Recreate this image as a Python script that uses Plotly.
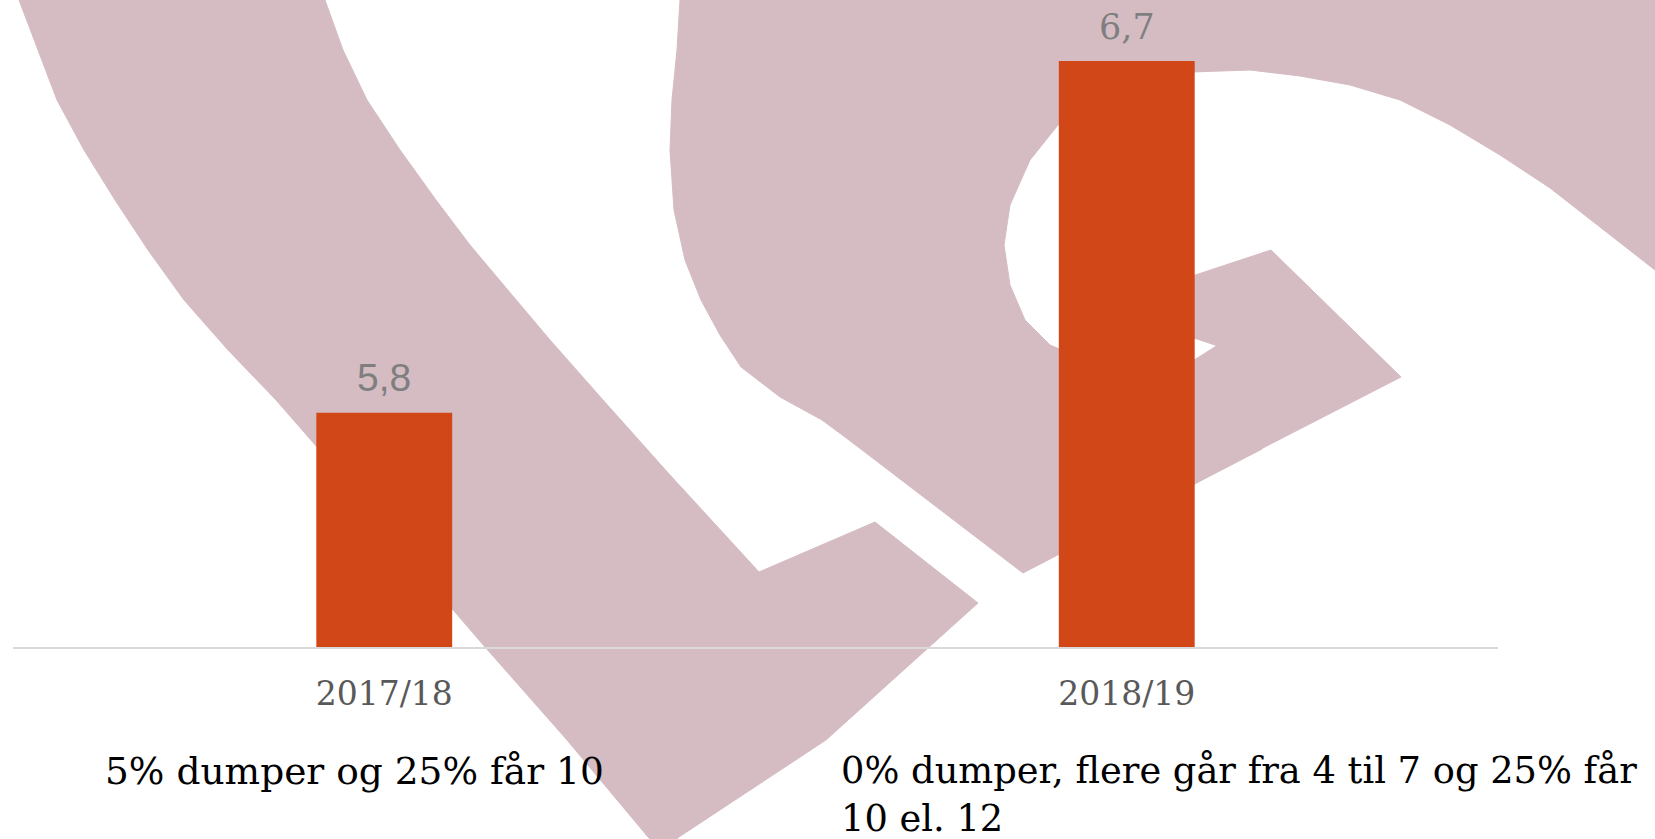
import plotly.graph_objects as go

# ---- data ----
categories = ["2017/18", "2018/19"]
values = [5.8, 6.7]
label_fonts = ["Liberation Sans", "DejaVu Serif"]
label_sizes = [39, 35]
notes = [
    "5% dumper og 25% får 10",
    "0% dumper, flere går fra 4 til 7 og 25% får<br>10 el. 12",
]
note_sizes = [37.5, 36.8]

# ---- layout geometry ----
W, H = 1655, 839
ML, MR, MT, MB = 13, 157, 22, 192
PW = W - ML - MR
PH = H - MT - MB

PINK = "#d5bcc3"
BAR = "#d24718"


def P(x, y):
    return (x - ML) / PW, (H - MB - y) / PH


def path(pts):
    s = ""
    for i, (x, y) in enumerate(pts):
        px, py = P(x, y)
        s += ("M" if i == 0 else "L") + f"{px:.5f},{py:.5f} "
    return s + "Z"


# background logo (decoration), pixel outlines
band = [(15, -5), (19, 0), (38, 50), (57, 100), (84, 150), (115, 200), (148, 250),
        (184, 300), (228, 350), (276, 400), (317, 447), (400, 548), (485, 647),
        (567, 740), (648, 837), (663, 852), (679, 837), (826, 740), (978, 603),
        (875, 522), (759, 572), (670, 475), (603, 400), (550, 340), (512, 295),
        (470, 245), (436, 200), (400, 150), (367, 100), (343, 50), (325, 0), (323, -5)]
cbody = [(682, -5), (1660, -5), (1660, 272), (1655, 270), (1600, 227), (1550, 188),
         (1500, 155), (1450, 125), (1400, 100), (1350, 85), (1300, 76), (1250, 70),
         (1192, 72), (1140, 80), (1095, 100), (1058, 125), (1030, 160), (1010, 205),
         (1004, 245), (1010, 285), (1025, 320), (1050, 345), (1090, 362), (1140, 368),
         (1191, 362), (1218, 345), (1262, 449), (1023, 573), (849, 440), (822, 420),
         (780, 397), (741, 367), (720, 335), (701, 300), (685, 260), (674, 210),
         (670, 150), (672, 100), (677, 50), (680, 0)]
hook = [(1150, 290), (1271, 250), (1401, 377), (1191, 485), (1191, 364),
        (1218, 346), (1191, 337), (1150, 330)]

shapes = [dict(type="path", path=path(p), xref="paper", yref="paper",
               fillcolor=PINK, line=dict(width=1, color=PINK), layer="below")
          for p in (band, cbody, hook)]

fig = go.Figure()
fig.add_trace(go.Bar(x=categories, y=values, marker=dict(color=BAR, line=dict(width=0)),
                     hoverinfo="skip"))

annotations = []
for c, v, f, s in zip(categories, values, label_fonts, label_sizes):
    annotations.append(dict(x=c, y=v, xref="x", yref="y", text=f"{v:.1f}".replace(".", ","),
                            showarrow=False, yanchor="bottom", yshift=12,
                            font=dict(family=f, size=s, color="#7f7f7f")))

note_x = [103, 839]
for t, xp, fs in zip(notes, note_x, note_sizes):
    px, py = P(xp, 747)
    annotations.append(dict(x=px, y=py, xref="paper", yref="paper", text=t,
                            showarrow=False, xanchor="left", yanchor="top", align="left",
                            font=dict(family="DejaVu Serif", size=fs, color="#000000")))

fig.update_layout(
    width=W, height=H,
    margin=dict(l=ML, r=MR, t=MT, b=MB),
    paper_bgcolor="white", plot_bgcolor="rgba(0,0,0,0)",
    bargap=0.817,
    showlegend=False,
    shapes=shapes,
    annotations=annotations,
    xaxis=dict(type="category", showline=True, linecolor="#d9d9d9", linewidth=2,
               showgrid=False, zeroline=False, ticks="outside", ticklen=16,
               tickcolor="rgba(0,0,0,0)",
               tickfont=dict(family="DejaVu Serif", size=33, color="#595959")),
    yaxis=dict(range=[5.2, 6.8], visible=False, showgrid=False, zeroline=False),
)

fig.write_html("out.html")
